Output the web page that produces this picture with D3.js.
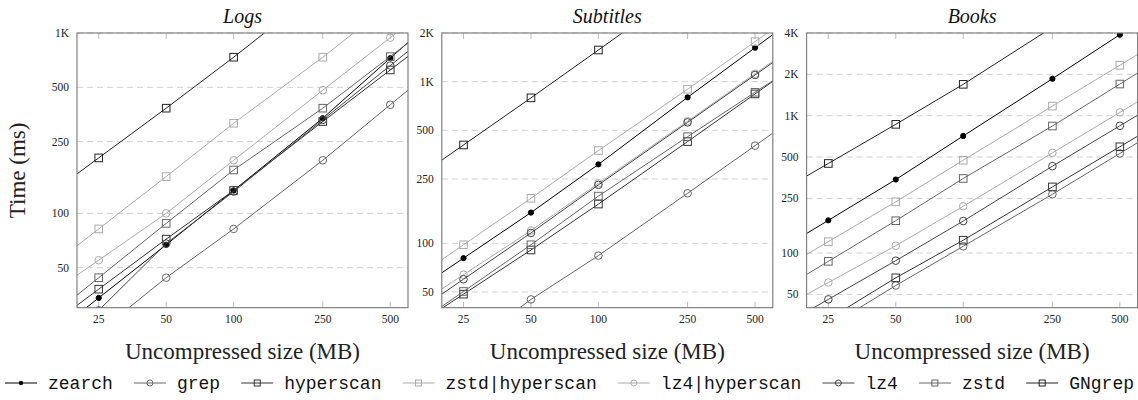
<!DOCTYPE html>
<html>
<head>
<meta charset="utf-8">
<script src="https://cdn.jsdelivr.net/npm/d3@7"></script>
<style>
  body { margin: 0; background: #fff; }
  .tick-label { font: 11.5px "Liberation Serif", serif; fill: #222; }
  .panel-title { font: italic 20px "Liberation Serif", serif; fill: #111; }
  .axis-legend { font: 23px "Liberation Serif", serif; fill: #222; }
  .legend-text { font: 18px "Liberation Mono", monospace; fill: #111; }
</style>
</head>
<body>
<svg class="chart"></svg>
<script>
// data (times in ms)
var sizes = [25, 50, 100, 250, 500];
var seriesNames = ["zearch", "grep", "hyperscan", "zstd|hyperscan", "lz4|hyperscan", "lz4", "zstd", "GNgrep"];
var seriesColors = ["#000", "#666", "#333", "#aaa", "#aaa", "#444", "#666", "#222"];
var seriesMarks = ["dot", "circle", "square", "square", "circle", "circle", "square", "square"];

// one row per series, same order as seriesNames
var logsTimes = [
  [34, 67, 134, 337, 725],
  [22, 44, 82, 197, 400],
  [38, 72, 134, 323, 624],
  [82, 160, 316, 734, 1450],
  [55, 100, 197, 482, 942],
  [29, 68, 132, 330, 660],
  [44, 88, 174, 383, 740],
  [203, 383, 734, 1800, 3500]
];
var subtitlesTimes = [
  [81, 155, 308, 800, 1623],
  [22, 45, 84, 204, 402],
  [48.5, 91, 175, 426, 840],
  [98, 190, 375, 898, 1768],
  [64, 120, 235, 570, 1120],
  [60, 116, 230, 560, 1100],
  [50.4, 98, 196, 457, 860],
  [406, 794, 1570, 3900, 7800]
];
var booksTimes = [
  [173, 343, 712, 1858, 3890],
  [29, 58, 112, 268, 531],
  [33, 66, 124, 303, 594],
  [121, 236, 474, 1175, 2330],
  [61, 113, 219, 536, 1057],
  [46, 88, 171, 429, 844],
  [87, 172, 349, 841, 1700],
  [449, 865, 1692, 4400, 8600]
];

var xTicks = [25, 50, 100, 250, 500];
var logsTicks = [50, 100, 250, 500, 1000];
var subtitlesTicks = [50, 100, 250, 500, 1000, 2000];
var booksTicks = [50, 100, 250, 500, 1000, 2000, 4000];

var panels = [
  {title: "Logs", times: logsTimes, ticks: logsTicks, yDomain: [30, 1000]},
  {title: "Subtitles", times: subtitlesTimes, ticks: subtitlesTicks, yDomain: [40, 2000]},
  {title: "Books", times: booksTimes, ticks: booksTicks, yDomain: [40, 4000]}
];

var totalWidth = 1138, totalHeight = 400;
var panelLeft = 77, panelStep = 364.8, panelWidth = 331;
var panelTop = 33, panelHeight = 274.7;

var svg = d3.select(".chart")
  .attr("width", totalWidth)
  .attr("height", totalHeight);

svg.append("rect")
  .attr("width", totalWidth)
  .attr("height", totalHeight)
  .style("fill", "#fff");

function tickText(v) {
  return v >= 1000 ? (v / 1000) + "K" : v;
}

function drawMark(sel, kind, color) {
  if (kind == "dot") {
    sel.append("circle").attr("r", 2.6).style("fill", color).style("stroke", color);
  } else if (kind == "circle") {
    sel.append("circle").attr("r", 3.8).style("fill", "none").style("stroke", color).style("stroke-width", 1);
  } else {
    sel.append("rect").attr("x", -3.8).attr("y", -3.8).attr("width", 7.6).attr("height", 7.6)
      .style("fill", "none").style("stroke", color).style("stroke-width", 1);
  }
}

panels.forEach(function(p, i) {

  var x = d3.scaleLog().domain([20, 600]).range([0, panelWidth]);
  var y = d3.scaleLog().domain(p.yDomain).range([panelHeight, 0]);

  var g = svg.append("g")
    .attr("transform", "translate(" + (panelLeft + i * panelStep) + "," + panelTop + ")");

  // dashed grid lines
  g.selectAll(".grid")
    .data(p.ticks)
    .enter().append("line")
    .attr("x1", 0).attr("x2", panelWidth)
    .attr("y1", function(d) { return y(d); })
    .attr("y2", function(d) { return y(d); })
    .style("stroke", "#d0d0d0")
    .style("stroke-dasharray", "6,4");

  // small x ticks, top and bottom
  g.selectAll(".xt-top")
    .data(xTicks)
    .enter().append("line")
    .attr("x1", function(d) { return x(d); }).attr("x2", function(d) { return x(d); })
    .attr("y1", 0).attr("y2", 6)
    .style("stroke", "#bbb");

  g.selectAll(".xt-bottom")
    .data(xTicks)
    .enter().append("line")
    .attr("x1", function(d) { return x(d); }).attr("x2", function(d) { return x(d); })
    .attr("y1", panelHeight - 6).attr("y2", panelHeight)
    .style("stroke", "#bbb");

  g.selectAll(".ylab")
    .data(p.ticks)
    .enter().append("text")
    .attr("class", "tick-label")
    .attr("x", -8)
    .attr("y", function(d) { return y(d); })
    .attr("dy", "0.35em")
    .attr("text-anchor", "end")
    .text(tickText);

  g.selectAll(".xlab")
    .data(xTicks)
    .enter().append("text")
    .attr("class", "tick-label")
    .attr("x", function(d) { return x(d); })
    .attr("y", panelHeight + 15)
    .attr("text-anchor", "middle")
    .text(function(d) { return d; });

  var clipId = "clip" + i;
  g.append("clipPath").attr("id", clipId)
    .append("rect").attr("width", panelWidth).attr("height", panelHeight);

  var plot = g.append("g").attr("clip-path", "url(#" + clipId + ")");

  var line = d3.line()
    .x(function(d) { return x(d[0]); })
    .y(function(d) { return y(d[1]); });

  p.times.forEach(function(vals, s) {
    // extend the first and last segments to the edges of the axis
    var pts = sizes.map(function(sz, k) { return [sz, vals[k]]; });
    var k0 = Math.log(vals[1] / vals[0]) / Math.log(sizes[1] / sizes[0]);
    var k1 = Math.log(vals[4] / vals[3]) / Math.log(sizes[4] / sizes[3]);
    pts.unshift([20, vals[0] * Math.pow(20 / sizes[0], k0)]);
    pts.push([600, vals[4] * Math.pow(600 / sizes[4], k1)]);

    plot.append("path")
      .attr("d", line(pts))
      .style("fill", "none")
      .style("stroke", seriesColors[s])
      .style("stroke-width", 1);

    var marks = plot.selectAll(".m" + s)
      .data(sizes.map(function(sz, k) { return [sz, vals[k]]; }))
      .enter().append("g")
      .attr("transform", function(d) { return "translate(" + x(d[0]) + "," + y(d[1]) + ")"; });
    drawMark(marks, seriesMarks[s], seriesColors[s]);
  });

  g.append("rect")
    .attr("width", panelWidth)
    .attr("height", panelHeight)
    .style("fill", "none")
    .style("stroke", "#777")
    .style("stroke-width", 1.1);

  g.append("text")
    .attr("class", "panel-title")
    .attr("x", panelWidth / 2)
    .attr("y", -10)
    .attr("text-anchor", "middle")
    .text(p.title);

  g.append("text")
    .attr("class", "axis-legend")
    .attr("x", panelWidth / 2)
    .attr("y", panelHeight + 51)
    .attr("text-anchor", "middle")
    .text("Uncompressed size (MB)");
});

svg.append("text")
  .attr("class", "axis-legend")
  .attr("text-anchor", "middle")
  .attr("transform", "translate(25," + (panelTop + panelHeight / 2) + "), rotate(-90)")
  .text("Time (ms)");

// legend row
var legendY = 383, legendStart = 5, legendEnd = 1134;
var lineLen = 32, textGap = 11;

var legend = svg.append("g");
var items = legend.selectAll("g")
  .data(seriesNames)
  .enter().append("g");

items.append("line")
  .attr("x1", 0).attr("x2", lineLen)
  .style("stroke", function(d, i) { return seriesColors[i]; });

items.each(function(d, i) {
  var m = d3.select(this).append("g").attr("transform", "translate(" + (lineLen / 2) + ",0)");
  if (seriesMarks[i] == "dot") {
    m.append("circle").attr("r", 2.2).style("fill", seriesColors[i]);
  } else if (seriesMarks[i] == "circle") {
    m.append("circle").attr("r", 3).style("fill", "none").style("stroke", seriesColors[i]);
  } else {
    m.append("rect").attr("x", -3).attr("y", -3).attr("width", 6).attr("height", 6)
      .style("fill", "none").style("stroke", seriesColors[i]);
  }
});

items.append("text")
  .attr("class", "legend-text")
  .attr("x", lineLen + textGap)
  .attr("dy", "0.32em")
  .text(function(d) { return d; });

var widths = [];
items.each(function() {
  widths.push(lineLen + textGap + d3.select(this).select("text").node().getComputedTextLength());
});
var spare = (legendEnd - legendStart - d3.sum(widths)) / (seriesNames.length - 1);
var pos = legendStart;
items.attr("transform", function(d, i) {
  var t = "translate(" + pos + "," + legendY + ")";
  pos += widths[i] + spare;
  return t;
});
</script>
</body>
</html>
